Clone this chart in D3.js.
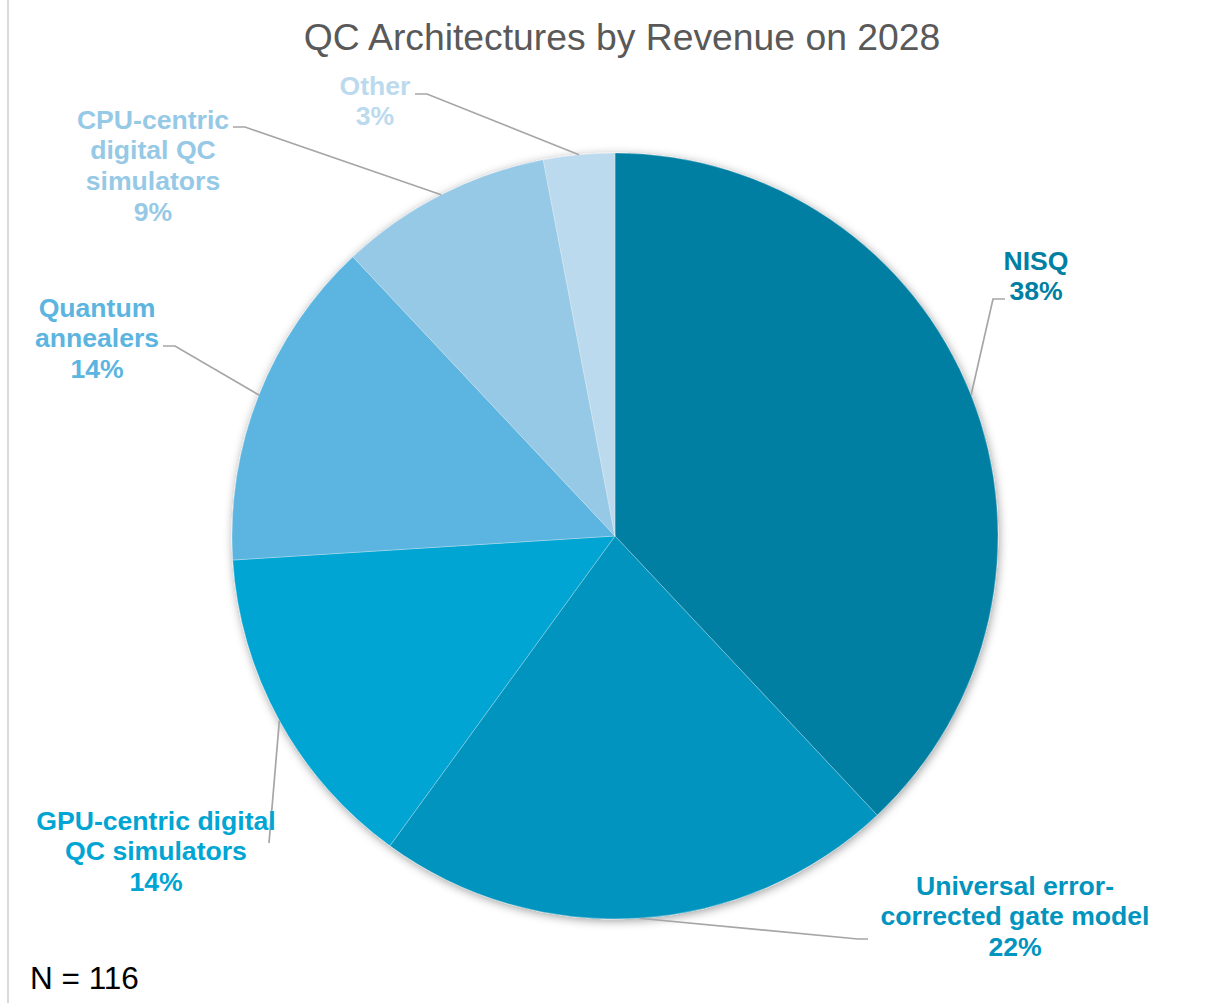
<!DOCTYPE html>
<html>
<head>
<meta charset="utf-8">
<script src="https://cdn.jsdelivr.net/npm/d3@7/dist/d3.min.js"></script>
<style>
  html, body { margin: 0; padding: 0; background: #ffffff; }
  svg { display: block; font-family: "Liberation Sans", Arial, sans-serif; }
</style>
</head>
<body>
<svg id="chart" width="1205" height="1003"></svg>
<script>
// Revenue share by architecture, clockwise from 12 o'clock
const categories = [
  "NISQ",
  "Universal error-corrected gate model",
  "GPU-centric digital QC simulators",
  "Quantum annealers",
  "CPU-centric digital QC simulators",
  "Other"
];
const shares = [38, 22, 14, 14, 9, 3];
// Wrapped label text for each slice
const labelLines = [
  ["NISQ"],
  ["Universal error-", "corrected gate model"],
  ["GPU-centric digital", "QC simulators"],
  ["Quantum", "annealers"],
  ["CPU-centric", "digital QC", "simulators"],
  ["Other"]
];
const sliceColors = ["#007FA3", "#0094BE", "#00A5D3", "#5BB5E0", "#96C9E6", "#BCDAEE"];
const titleText = "QC Architectures by Revenue on 2028";
const footnote = "N = 116";

// Label placement (text centre x, first line centre y) and leader-line elbow/end
const labelLayout = [
  { x: 1036, y: 260, elbow: [993, 299], end: [1005, 299] },
  { x: 1015, y: 885, elbow: [858, 939], end: [868, 939] },
  { x: 156,  y: 820, elbow: [269, 843], end: [269, 843] },
  { x: 97,   y: 307, elbow: [175, 346], end: [163, 346] },
  { x: 153,  y: 119, elbow: [245, 127], end: [233, 127] },
  { x: 375,  y: 85,  elbow: [427, 94],  end: [415, 94] }
];

const svg = d3.select("#chart");
const cx = 615, cy = 536, radius = 383;
const labelSize = 26.6, lineGap = 30.7;

// Chart frame edge on the left
svg.append("line")
  .attr("x1", 8).attr("x2", 8).attr("y1", 0).attr("y2", 1003)
  .attr("stroke", "#D9D9D9").attr("stroke-width", 2);

// Soft shadow under the pie
const defs = svg.append("defs");
const f = defs.append("filter").attr("id", "pieShadow")
  .attr("x", "-10%").attr("y", "-10%").attr("width", "120%").attr("height", "120%");
f.append("feDropShadow")
  .attr("dx", 1).attr("dy", 2).attr("stdDeviation", 5)
  .attr("flood-color", "#000").attr("flood-opacity", 0.38);

// Title
svg.append("text")
  .attr("x", 622).attr("y", 50)
  .attr("text-anchor", "middle")
  .attr("font-size", 37.3)
  .attr("fill", "#595959")
  .text(titleText);

const data = categories.map((c, i) => ({ name: c, value: shares[i], i }));

const pie = d3.pie().sort(null).value(d => d.value).startAngle(0).endAngle(2 * Math.PI);
const arcs = pie(data);
const arc = d3.arc().innerRadius(0).outerRadius(radius);

const g = svg.append("g").attr("transform", `translate(${cx},${cy})`);
g.append("g").attr("filter", "url(#pieShadow)")
  .selectAll("path")
  .data(arcs)
  .join("path")
  .attr("d", arc)
  .attr("fill", d => sliceColors[d.data.i])
  .attr("stroke", "#ffffff")
  .attr("stroke-opacity", 0.35)
  .attr("stroke-width", 0.8);

// Leader lines from each slice's outer edge to its label
const leaders = svg.append("g");
arcs.forEach(a => {
  const mid = (a.startAngle + a.endAngle) / 2;
  const px = cx + radius * Math.sin(mid);
  const py = cy - radius * Math.cos(mid);
  const L = labelLayout[a.data.i];
  leaders.append("polyline")
    .attr("points", [[px, py], L.elbow, L.end].map(p => p.join(",")).join(" "))
    .attr("fill", "none")
    .attr("stroke", "#A6A6A6")
    .attr("stroke-width", 1.7);
});

// Data labels: category name and percentage
const labels = svg.append("g");
arcs.forEach(a => {
  const i = a.data.i;
  const L = labelLayout[i];
  const lines = labelLines[i].concat([d3.format(".0f")(a.data.value) + "%"]);
  const t = labels.append("text")
    .attr("text-anchor", "middle")
    .attr("font-size", labelSize)
    .attr("font-weight", "bold")
    .attr("fill", sliceColors[i]);
  lines.forEach((ln, k) => {
    t.append("tspan")
      .attr("x", L.x)
      .attr("y", L.y + k * lineGap + 9.5)
      .text(ln);
  });
});

// Sample size note
svg.append("text")
  .attr("x", 30).attr("y", 989)
  .attr("font-size", 31.5)
  .attr("fill", "#000000")
  .text(footnote);
</script>
</body>
</html>
